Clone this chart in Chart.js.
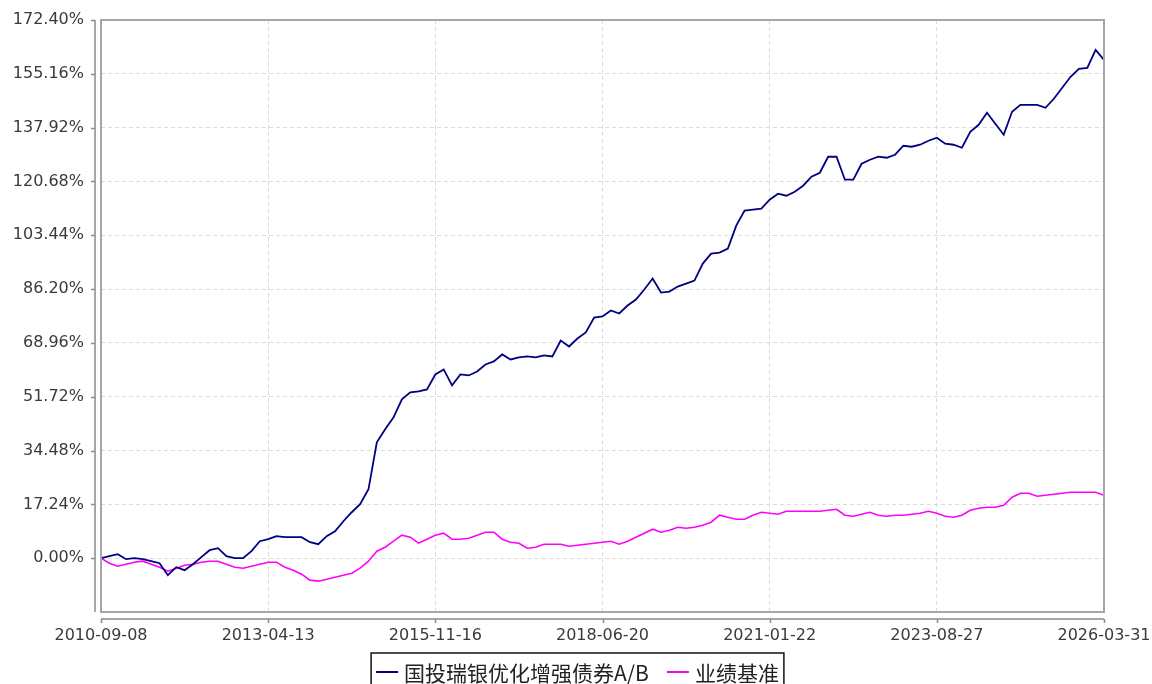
<!DOCTYPE html>
<html><head><meta charset="utf-8">
<script src="https://cdn.jsdelivr.net/npm/chart.js@4.4.1/dist/chart.umd.min.js"></script>
<style>html,body{margin:0;padding:0;background:#fff;overflow:hidden}#wrap{width:1152px;height:684px;position:relative}</style>
</head><body><div id="wrap"><canvas id="c"></canvas></div>
<script>
// ---- data (sampled at 121 equally spaced dates from 2010-09-08 to 2026-03-31) ----
const xTickLabels = ['2010-09-08','2013-04-13','2015-11-16','2018-06-20','2021-01-22','2023-08-27','2026-03-31'];
const yTickValues = [0, 17.24, 34.48, 51.72, 68.96, 86.20, 103.44, 120.68, 137.92, 155.16, 172.40];
const seriesNames = ['国投瑞银优化增强债券A/B', '业绩基准'];
const fundValues = [
  0.00, 0.64, 1.28, -0.32, 0.00, -0.32, -0.96, -1.60, -5.44, -2.88,
  -3.84, -1.92, 0.32, 2.56, 3.20, 0.64, 0.00, 0.00, 2.24, 5.44,
  6.08, 7.04, 6.72, 6.72, 6.72, 5.12, 4.48, 7.04, 8.64, 11.84,
  14.72, 17.27, 22.07, 37.11, 41.27, 45.11, 50.87, 53.11, 53.43, 54.07,
  58.86, 60.46, 55.35, 58.86, 58.54, 59.82, 62.06, 63.02, 65.26, 63.66,
  64.30, 64.62, 64.30, 64.94, 64.62, 69.74, 67.82, 70.38, 72.30, 77.10,
  77.42, 79.34, 78.38, 80.94, 82.86, 86.05, 89.57, 85.09, 85.41, 87.01,
  87.97, 88.93, 94.37, 97.57, 97.89, 99.17, 106.52, 111.32, 111.64, 111.96,
  114.84, 116.76, 116.12, 117.40, 119.32, 122.20, 123.48, 128.60, 128.60, 121.24,
  121.24, 126.36, 127.64, 128.60, 128.28, 129.24, 132.12, 131.80, 132.44, 133.72,
  134.68, 132.76, 132.44, 131.48, 136.60, 138.84, 142.68, 139.16, 135.64, 143.00,
  145.24, 145.24, 145.24, 144.28, 147.16, 150.68, 154.20, 156.76, 157.08, 162.84,
  159.64
];
const benchValues = [
  0.00, -1.60, -2.56, -1.92, -1.28, -0.96, -1.92, -2.88, -4.16, -3.20,
  -2.24, -1.92, -1.28, -0.96, -0.96, -1.92, -2.88, -3.20, -2.56, -1.92,
  -1.28, -1.28, -2.88, -3.84, -5.12, -7.04, -7.36, -6.72, -6.08, -5.44,
  -4.80, -3.20, -0.96, 2.24, 3.52, 5.44, 7.36, 6.72, 4.80, 6.08,
  7.36, 8.00, 6.08, 6.08, 6.40, 7.36, 8.32, 8.32, 6.08, 5.12,
  4.80, 3.20, 3.52, 4.48, 4.48, 4.48, 3.84, 4.16, 4.48, 4.80,
  5.12, 5.44, 4.48, 5.44, 6.72, 8.00, 9.28, 8.32, 8.96, 9.92,
  9.60, 9.92, 10.56, 11.52, 13.76, 13.12, 12.48, 12.48, 13.76, 14.72,
  14.40, 14.08, 15.04, 15.04, 15.04, 15.04, 15.04, 15.36, 15.68, 13.76,
  13.44, 14.08, 14.72, 13.76, 13.44, 13.76, 13.76, 14.08, 14.40, 15.04,
  14.40, 13.44, 13.12, 13.76, 15.36, 15.99, 16.31, 16.31, 16.95, 19.51,
  20.79, 20.79, 19.83, 20.15, 20.47, 20.79, 21.11, 21.11, 21.11, 21.11,
  20.15
];
const seriesColors = ['#000080', '#ff00ff'];
const Y_MIN = -17.24, Y_MAX = 172.40;
const X_STEP = (fundValues.length - 1) / (xTickLabels.length - 1);

const toPoints = arr => arr.map((v, i) => ({x: i, y: v}));

function line(ctx, x1, y1, x2, y2) { ctx.beginPath(); ctx.moveTo(x1, y1); ctx.lineTo(x2, y2); ctx.stroke(); }

const framePlugin = {
  id: 'frame',
  afterDatasetsDraw(chart) {
    const {ctx, chartArea: a, scales: {x, y}} = chart;
    ctx.save();
    ctx.strokeStyle = '#a6a6a6';
    ctx.lineWidth = 2;
    ctx.strokeRect(a.left, a.top, a.right - a.left, a.bottom - a.top);
    ctx.strokeStyle = '#8a8a8a';
    ctx.lineWidth = 1.5;
    const ax = a.left - 6;
    line(ctx, ax, a.top, ax, a.bottom);
    y.ticks.forEach(t => { const py = Math.round(y.getPixelForValue(t.value)) + 0.5; line(ctx, ax - 4, py, ax, py); });
    const ay = a.bottom + 7;
    line(ctx, a.left, ay, a.right, ay);
    x.ticks.forEach(t => { const px = Math.round(x.getPixelForValue(t.value)) + 0.5; line(ctx, px, ay, px, ay + 4); });
    ctx.restore();
  },
  afterDraw(chart) {
    const ctx = chart.ctx;
    const ds = chart.data.datasets;
    ctx.save();
    ctx.font = '21px "Noto Sans CJK SC", sans-serif';
    const segLen = 22, gapLine = 6, gapItem = 18, padX = 5;
    const widths = ds.map(d => ctx.measureText(d.label).width);
    let total = padX * 2;
    widths.forEach((w, i) => { total += segLen + gapLine + w + (i < widths.length - 1 ? gapItem : 0); });
    const cx = 577.5;
    const left = cx - total / 2;
    const top = 653, h = 40, cy = 672;
    ctx.strokeStyle = '#111';
    ctx.lineWidth = 1.5;
    ctx.strokeRect(left, top, total, h);
    let xx = left + padX;
    ctx.textBaseline = 'middle';
    ctx.textAlign = 'left';
    ds.forEach((d, i) => {
      ctx.strokeStyle = d.borderColor;
      ctx.lineWidth = 2;
      line(ctx, xx, cy, xx + segLen, cy);
      xx += segLen + gapLine;
      ctx.fillStyle = '#222';
      ctx.fillText(d.label, xx, cy + 1);
      xx += widths[i] + gapItem;
    });
    ctx.restore();
  }
};

const tickFont = {family: '"DejaVu Sans", sans-serif', size: 16};

new Chart(document.getElementById('c'), {
  type: 'line',
  data: {
    datasets: [
      {label: seriesNames[0], data: toPoints(fundValues), borderColor: seriesColors[0], backgroundColor: seriesColors[0], borderWidth: 1.8, pointRadius: 0, tension: 0, fill: false},
      {label: seriesNames[1], data: toPoints(benchValues), borderColor: seriesColors[1], backgroundColor: seriesColors[1], borderWidth: 1.6, pointRadius: 0, tension: 0, fill: false}
    ]
  },
  options: {
    responsive: true,
    maintainAspectRatio: false,
    animation: false,
    events: [],
    layout: {padding: {top: 20, right: 48, bottom: 0, left: 0}},
    plugins: {legend: {display: false}, tooltip: {enabled: false}},
    scales: {
      x: {
        type: 'linear', min: 0, max: fundValues.length - 1,
        afterBuildTicks: s => { s.ticks = xTickLabels.map((_, k) => ({value: k * X_STEP})); },
        afterFit: s => { s.height = 72; s.paddingLeft = 0; s.paddingRight = 0; },
        ticks: {font: tickFont, color: '#3a3a3a', padding: 14, maxRotation: 0, autoSkip: false,
          callback: (v, i) => xTickLabels[i]},
        grid: {color: '#dcdcdc', lineWidth: 1, drawTicks: false},
        border: {display: false, dash: [4, 3]}
      },
      y: {
        type: 'linear', min: Y_MIN, max: Y_MAX,
        afterBuildTicks: s => { s.ticks = yTickValues.map(v => ({value: v})); },
        afterFit: s => { s.width = 101; s.paddingTop = 0; s.paddingBottom = 0; },
        ticks: {font: tickFont, color: '#3a3a3a', padding: 17,
          callback: v => v.toFixed(2) + '%'},
        grid: {color: '#dcdcdc', lineWidth: 1, drawTicks: false},
        border: {display: false, dash: [4, 3]}
      }
    }
  },
  plugins: [framePlugin]
});
</script>
</body></html>
